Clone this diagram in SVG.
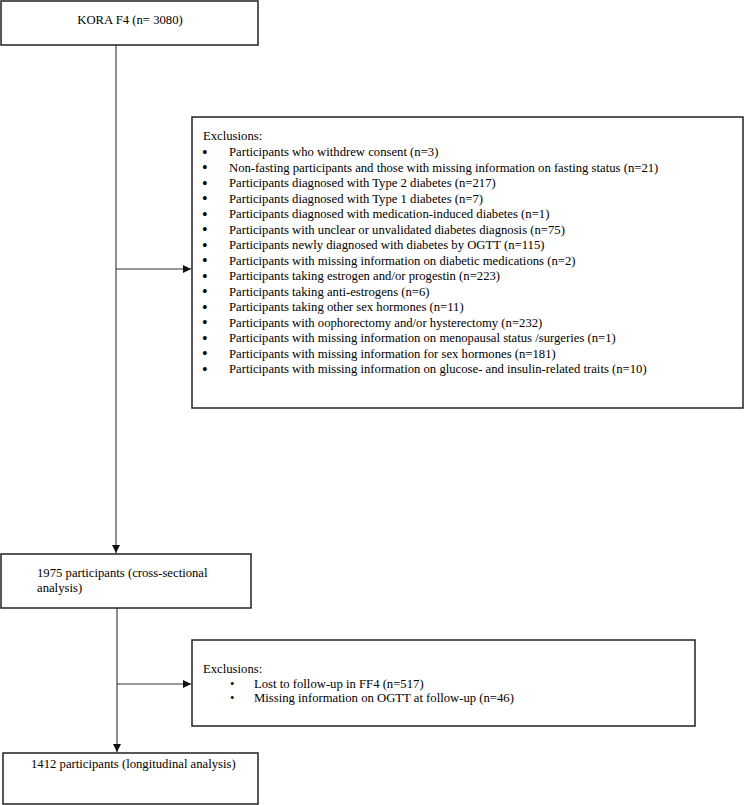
<svg xmlns="http://www.w3.org/2000/svg" width="744" height="805" viewBox="0 0 744 805">
<defs>
<style>
.box{fill:#fff;stroke:#222;stroke-width:1.5}
.t{font-family:"Liberation Serif","Times New Roman",serif;font-size:12.7px;fill:#000}
.b{font-family:"Liberation Serif","Times New Roman",serif;font-size:16px;fill:#000}
.c{stroke:#333;stroke-width:1.1;fill:none}
</style>
<marker id="ah" viewBox="0 0 10 10" refX="10" refY="5" markerWidth="9" markerHeight="8" markerUnits="userSpaceOnUse" orient="auto">
<path d="M0,0 L10,5 L0,10 Z" fill="#111"/>
</marker>
</defs>
<rect width="744" height="805" fill="#fff"/>
<g id="connectors">
<line class="c" x1="116" y1="45" x2="116" y2="553" marker-end="url(#ah)"/>
<line class="c" x1="116" y1="269" x2="191" y2="269" marker-end="url(#ah)"/>
<line class="c" x1="117" y1="608" x2="117" y2="752" marker-end="url(#ah)"/>
<line class="c" x1="117" y1="684" x2="191" y2="684" marker-end="url(#ah)"/>
</g>
<g id="kora">
<rect class="box" x="1" y="1" width="257" height="44"/>
<text class="t" x="130" y="24" text-anchor="middle">KORA F4 (n= 3080)</text>
</g>
<g id="exclusions1">
<rect class="box" x="192" y="117" width="551" height="291"/>
<text class="t" x="203" y="140">Exclusions:</text>
<g class="b">
<text x="202" y="157.5">•</text>
<text x="202" y="173">•</text>
<text x="202" y="188.5">•</text>
<text x="202" y="204">•</text>
<text x="202" y="219.5">•</text>
<text x="202" y="235">•</text>
<text x="202" y="250.5">•</text>
<text x="202" y="266">•</text>
<text x="202" y="281.5">•</text>
<text x="202" y="297">•</text>
<text x="202" y="312.5">•</text>
<text x="202" y="328">•</text>
<text x="202" y="343.5">•</text>
<text x="202" y="359">•</text>
<text x="202" y="374.5">•</text>
</g>
<g class="t">
<text x="229" y="156">Participants who withdrew consent (n=3)</text>
<text x="229" y="171.5">Non-fasting participants and those with missing information on fasting status (n=21)</text>
<text x="229" y="187">Participants diagnosed with Type 2 diabetes (n=217)</text>
<text x="229" y="202.5">Participants diagnosed with Type 1 diabetes (n=7)</text>
<text x="229" y="218">Participants diagnosed with medication-induced diabetes (n=1)</text>
<text x="229" y="233.5">Participants with unclear or unvalidated diabetes diagnosis (n=75)</text>
<text x="229" y="249">Participants newly diagnosed with diabetes by OGTT (n=115)</text>
<text x="229" y="264.5">Participants with missing information on diabetic medications (n=2)</text>
<text x="229" y="280">Participants taking estrogen and/or progestin (n=223)</text>
<text x="229" y="295.5">Participants taking anti-estrogens (n=6)</text>
<text x="229" y="311">Participants taking other sex hormones (n=11)</text>
<text x="229" y="326.5">Participants with oophorectomy and/or hysterectomy (n=232)</text>
<text x="229" y="342">Participants with missing information on menopausal status /surgeries (n=1)</text>
<text x="229" y="357.5">Participants with missing information for sex hormones (n=181)</text>
<text x="229" y="373">Participants with missing information on glucose- and insulin-related traits (n=10)</text>
</g>
</g>
<g id="cross">
<rect class="box" x="1" y="554" width="250" height="54"/>
<text class="t" x="37" y="577">1975 participants (cross-sectional</text>
<text class="t" x="37" y="592">analysis)</text>
</g>
<g id="exclusions2">
<rect class="box" x="192" y="640" width="503" height="86"/>
<text class="t" x="203" y="673">Exclusions:</text>
<text class="t" x="230" y="688">•</text><text class="t" x="254" y="688">Lost to follow-up in FF4 (n=517)</text>
<text class="t" x="230" y="702">•</text><text class="t" x="254" y="702">Missing information on OGTT at follow-up (n=46)</text>
</g>
<g id="longitudinal">
<rect class="box" x="3" y="753" width="255" height="51"/>
<text class="t" x="31" y="768">1412 participants (longitudinal analysis)</text>
</g>
</svg>
